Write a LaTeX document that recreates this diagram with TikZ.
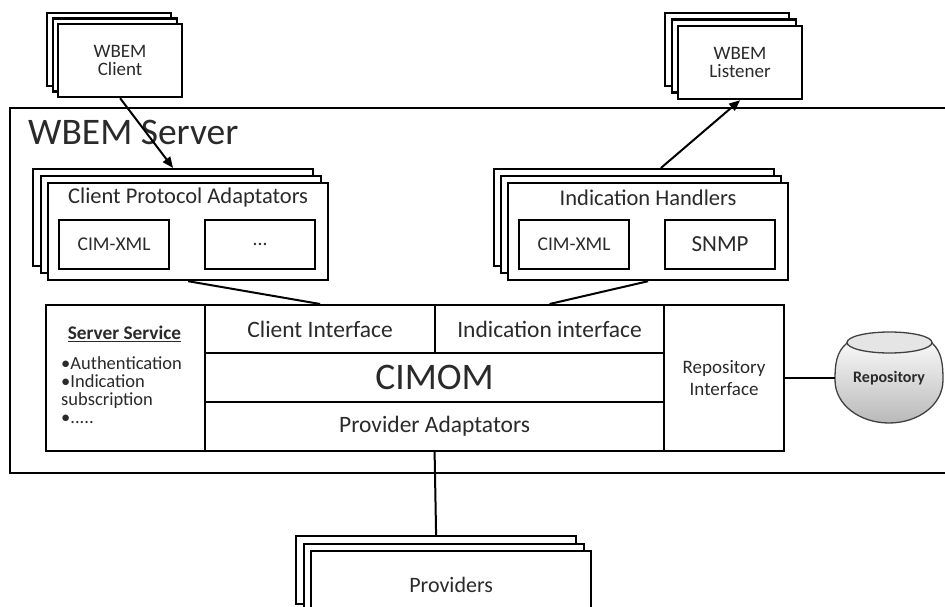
\documentclass[tikz,border=0pt]{standalone}
\usepackage{fontspec}
\setmainfont{Carlito}
\usetikzlibrary{arrows.meta,calc}
\definecolor{ink}{HTML}{2A2A2A}

\begin{document}
\begin{tikzpicture}[x=1pt,y=-1pt,
  frame/.style={draw=black, line width=2.2pt, fill=white, inner sep=0pt, anchor=north west, text=ink},
  peer/.style={frame, minimum width=124pt, minimum height=73pt, font=\fontsize{19}{18}\selectfont, align=center},
  adapt/.style={frame, minimum width=280pt, minimum height=97pt},
  prov/.style={frame, minimum width=280pt, minimum height=68pt, font=\fontsize{22}{24}\selectfont},
  proto/.style={frame, minimum width=110pt, minimum height=49pt, font=\fontsize{19.5}{21}\selectfont},
  cell/.style={frame, font=\fontsize{23.5}{25}\selectfont},
  heading/.style={text=ink, font=\fontsize{22.5}{24}\selectfont, inner sep=0pt},
  link/.style={line width=2pt},
  arrow/.style={line width=2pt, -{Triangle[length=11pt,width=9pt]}}
]
\path[use as bounding box] (0,0) rectangle (945,607);
\clip (0,0) rectangle (945,607);

% server frame and title
\draw[line width=2pt] (10,108) rectangle (960,473);
\node[text=ink, font=\fontsize{37.5}{40}\selectfont, anchor=base west, inner sep=0pt] (srvtitle) at (28,145) {WBEM Server};

% WBEM client (stacked)
\node[peer] (cl2) at (46,12) {};
\node[peer] (cl1) at (51.5,17.5) {};
\node[peer] (cl) at (57,23) {WBEM\\Client};

% WBEM listener (stacked)
\node[peer] (li2) at (664,12) {};
\node[peer] (li1) at (670.5,18.5) {};
\node[peer] (li) at (677,25) {WBEM\\Listener};

% client protocol adaptators (stacked)
\node[adapt] (cpa2) at (32,168) {};
\node[adapt] (cpa1) at (39.5,175) {};
\node[adapt] (cpa) at (47,182) {};
\node[heading] (cpat) at ($(cpa.north)+(0,16)$) {Client Protocol Adaptators};
\node[proto] (cpax) at ($(cpa.north west)+(11,37)$) {CIM-XML};
\node[proto] (cpad) at ($(cpa.north west)+(157,37)$) {...};

% indication handlers (stacked)
\node[adapt] (ih2) at (493,168) {};
\node[adapt] (ih1) at (500,175) {};
\node[adapt] (ih) at (507,182) {};
\node[heading] (iht) at ($(ih.north)+(0,16)$) {Indication Handlers};
\node[proto] (ihx) at ($(ih.north west)+(11,37)$) {CIM-XML};
\node[proto, font=\fontsize{23}{24}\selectfont] (ihs) at ($(ih.north west)+(157,37)$) {SNMP};

% CIMOM block
\node[frame, minimum width=159pt, minimum height=146pt] (ss) at (45,304) {};
\node[cell, minimum width=230pt, minimum height=48pt] (ci) at (204,304) {Client Interface};
\node[cell, minimum width=229pt, minimum height=48pt] (ii) at (434,304) {Indication interface};
\node[cell, minimum width=459pt, minimum height=49pt, font=\fontsize{37.5}{40}\selectfont] (cim) at (204,352) {CIMOM};
\node[cell, minimum width=459pt, minimum height=49pt] (pa) at (204,401) {Provider Adaptators};
\node[cell, minimum width=120pt, minimum height=146pt, align=center, font=\fontsize{19}{22}\selectfont] (ri) at (663,304) {Repository\\Interface};

% server service list
\node[text=ink, font=\bfseries\fontsize{19.3}{20}\selectfont] (sst) at (124.5,334) {\underline{Server Service}};
\node[text=ink, anchor=north west, align=left, inner sep=0pt, font=\fontsize{18.5}{18}\selectfont] (ssl) at (61,356) {•Authentication\\•Indication\\subscription\\•.....};

% repository pot
\draw[line width=1.3pt, draw=black!75, top color=gray!6, bottom color=gray!55]
  (847,343) .. controls (836,352) and (835,365) .. (835,380)
  .. controls (835,405) and (860,423) .. (889,423)
  .. controls (918,423) and (943,405) .. (943,380)
  .. controls (943,365) and (942,352) .. (932,343) -- cycle;
\draw[line width=1.3pt, draw=black!75, fill=gray!20] (889.5,342.5) ellipse [x radius=42.5, y radius=10.5];
\node[text=ink, font=\bfseries\fontsize{16}{18}\selectfont, minimum width=108pt, minimum height=40pt, inner sep=0pt] (repo) at (889,378) {Repository};

% providers (stacked)
\node[prov] (pr2) at (295,535) {};
\node[prov] (pr1) at (302.5,542.5) {};
\node[prov] (pr) at (310,550) {Providers};

% connectors
\draw[arrow] (cl.south) -- (cpa2.north);
\draw[arrow] ($(ih2.north west)!0.595!(ih2.north east)$) -- (li.south);
\draw[link] (cpa.south) -- (ci.north);
\draw[link] (ih.south) -- (ii.north);
\draw[link] (ri.east) -- (ri.east -| repo.west);
\draw[link] (pa.south) -- (pr2.north);
\end{tikzpicture}
\end{document}
